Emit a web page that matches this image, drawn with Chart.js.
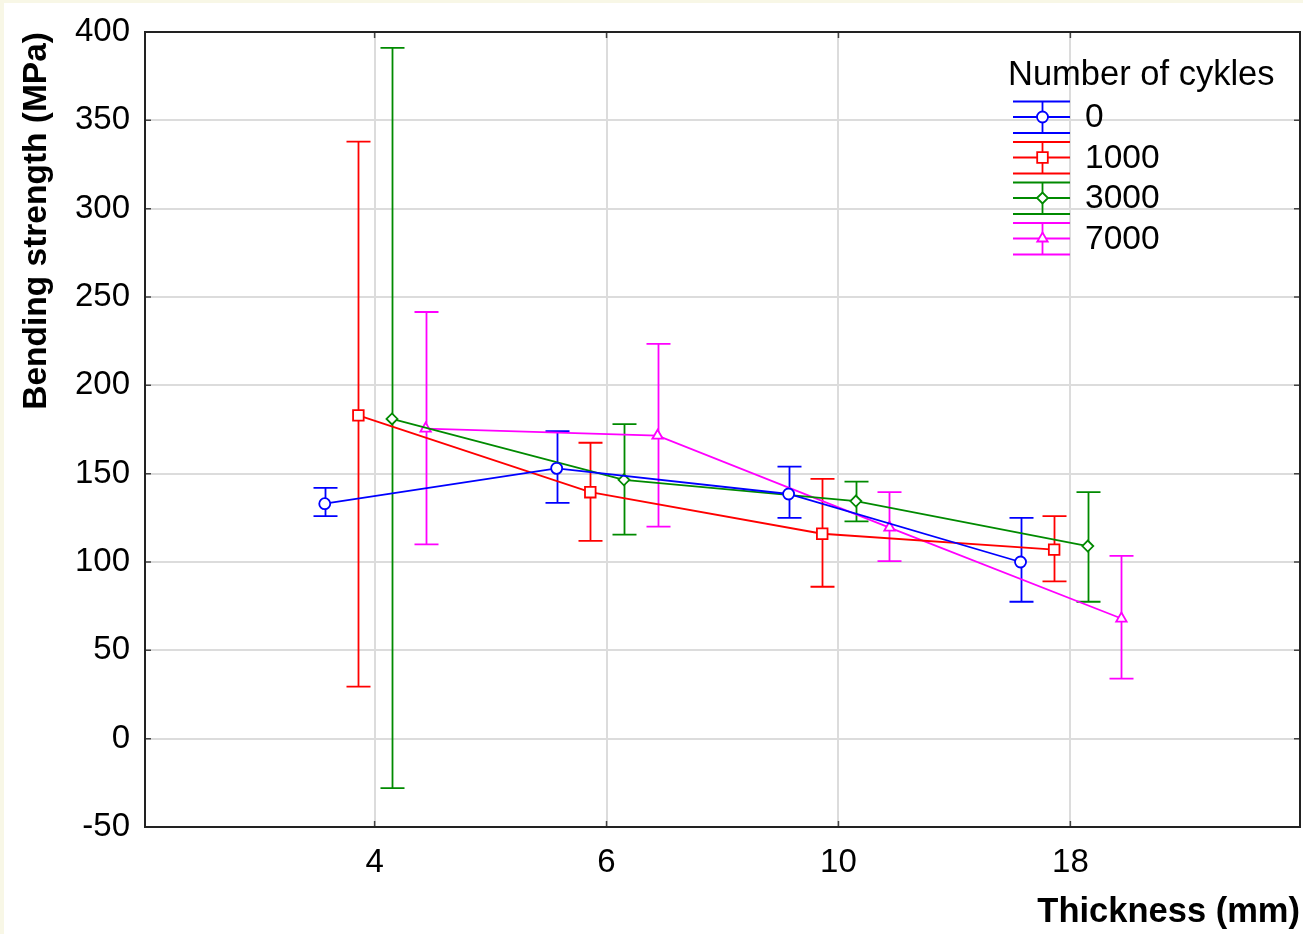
<!DOCTYPE html>
<html>
<head>
<meta charset="utf-8">
<script src="https://cdn.jsdelivr.net/npm/chart.js@4.4.1/dist/chart.umd.min.js"></script>
<style>
  html, body { margin: 0; padding: 0; background: #fff; }
  #wrap { width: 1303px; height: 934px; }
</style>
</head>
<body>
<div id="wrap"><canvas id="chart" width="1303" height="934"></canvas></div>
<script>
// ---------------------------------------------------------------------------
// Data: means and error bar limits per thickness
// ---------------------------------------------------------------------------
const thickness = ['4', '6', '10', '18'];
const cycles = ['0', '1000', '3000', '7000'];

const mean0 = [133, 153, 138.5, 100];
const low0 = [126, 133.5, 125, 77.5];
const high0 = [142, 174, 154, 125];

const mean1000 = [183, 139.5, 116, 107];
const low1000 = [29.5, 112, 86, 89];
const high1000 = [338, 167.5, 147, 126];

const mean3000 = [181, 146.5, 134.5, 109];
const low3000 = [-28, 115.5, 123, 77.5];
const high3000 = [391, 178, 145.5, 139.5];

const mean7000 = [175.5, 171.5, 119.5, 68];
const low7000 = [110, 120, 100.5, 34];
const high7000 = [241.5, 223.5, 139.5, 103.5];

// ---------------------------------------------------------------------------
// Styling
// ---------------------------------------------------------------------------
const FONT = 'Liberation Sans, Arial, sans-serif';
const LINE_W = 1.8;
const series = [
  { mean: mean0, low: low0, high: high0, color: '#0000ff', shape: 'circle', r: 5.5, shift: -0.215 },
  { mean: mean1000, low: low1000, high: high1000, color: '#ff0000', shape: 'rect', r: 7.5, shift: -0.07 },
  { mean: mean3000, low: low3000, high: high3000, color: '#008a00', shape: 'rectRot', r: 5.5, shift: 0.075 },
  { mean: mean7000, low: low7000, high: high7000, color: '#ff00ff', shape: 'triangle', r: 6, shift: 0.22 }
];

const datasets = series.map((s, i) => ({
  label: cycles[i],
  data: s.mean.map((m, k) => ({ x: k + 1 + s.shift, y: m, low: s.low[k], high: s.high[k] })),
  borderColor: s.color,
  backgroundColor: '#fff',
  borderWidth: LINE_W,
  tension: 0,
  pointStyle: s.shape,
  pointRadius: s.r,
  pointBorderWidth: 1.8,
  pointBackgroundColor: '#fff',
  pointBorderColor: s.color
}));

// ---------------------------------------------------------------------------
// Plugin: background, error bars, frame with inner ticks, legend
// ---------------------------------------------------------------------------
const decorations = {
  id: 'decorations',
  beforeDraw(chart) {
    const ctx = chart.ctx;
    ctx.save();
    ctx.fillStyle = '#fff';
    ctx.fillRect(0, 0, chart.width, chart.height);
    ctx.fillStyle = '#f8f7e6';
    ctx.fillRect(0, 0, 4, chart.height);
    ctx.fillRect(0, 0, chart.width, 3);
    ctx.restore();
  },
  beforeDatasetsDraw(chart) {
    const { ctx, scales: { x, y } } = chart;
    chart.data.datasets.forEach(ds => {
      ctx.save();
      ctx.strokeStyle = ds.borderColor;
      ctx.lineWidth = LINE_W;
      ds.data.forEach(p => {
        const px = Math.round(x.getPixelForValue(p.x)) + 0.5;
        const top = y.getPixelForValue(p.high);
        const bot = y.getPixelForValue(p.low);
        ctx.beginPath();
        ctx.moveTo(px, top);
        ctx.lineTo(px, bot);
        ctx.moveTo(px - 12, top);
        ctx.lineTo(px + 12, top);
        ctx.moveTo(px - 12, bot);
        ctx.lineTo(px + 12, bot);
        ctx.stroke();
      });
      ctx.restore();
    });
  },
  afterDraw(chart) {
    const { ctx, chartArea: a, scales: { x, y } } = chart;
    ctx.save();
    // inner tick marks
    ctx.strokeStyle = '#444';
    ctx.lineWidth = 1.5;
    ctx.beginPath();
    y.ticks.forEach(t => {
      const py = y.getPixelForValue(t.value);
      ctx.moveTo(a.left, py); ctx.lineTo(a.left + 6, py);
      ctx.moveTo(a.right, py); ctx.lineTo(a.right - 6, py);
    });
    x.ticks.forEach(t => {
      const px = x.getPixelForValue(t.value);
      ctx.moveTo(px, a.bottom); ctx.lineTo(px, a.bottom - 6);
      ctx.moveTo(px, a.top); ctx.lineTo(px, a.top + 6);
    });
    ctx.stroke();
    // frame
    ctx.strokeStyle = '#222';
    ctx.lineWidth = 2;
    ctx.strokeRect(a.left, a.top, a.right - a.left, a.bottom - a.top);

    // legend
    ctx.fillStyle = '#000';
    ctx.textBaseline = 'middle';
    ctx.textAlign = 'left';
    ctx.font = '34.5px ' + FONT;
    ctx.fillText('Number of cykles', 1008, 75);
    ctx.font = '33.5px ' + FONT;
    series.forEach((s, i) => {
      const cy = 117 + i * 40.5;
      ctx.strokeStyle = s.color;
      ctx.lineWidth = LINE_W;
      ctx.beginPath();
      ctx.moveTo(1013, cy); ctx.lineTo(1070, cy);
      ctx.moveTo(1013, cy - 15.5); ctx.lineTo(1070, cy - 15.5);
      ctx.moveTo(1013, cy + 16); ctx.lineTo(1070, cy + 16);
      ctx.moveTo(1042.5, cy - 15.5); ctx.lineTo(1042.5, cy + 16);
      ctx.stroke();
      ctx.fillStyle = '#fff';
      Chart.helpers.drawPoint(ctx, {
        pointStyle: s.shape, radius: s.r, borderWidth: 1.8, rotation: 0
      }, 1042.5, cy);
      ctx.fillStyle = '#000';
      ctx.fillText(cycles[i], 1085, cy + 1);
    });
    ctx.restore();
  }
};

// ---------------------------------------------------------------------------
// Chart
// ---------------------------------------------------------------------------
const ctx = document.getElementById('chart').getContext('2d');
new Chart(ctx, {
  type: 'line',
  data: { datasets: datasets },
  options: {
    responsive: false,
    animation: false,
    layout: { autoPadding: false, padding: { top: 32, right: 3, left: 0, bottom: 0 } },
    plugins: {
      legend: { display: false },
      tooltip: { enabled: false }
    },
    scales: {
      x: {
        type: 'linear',
        min: 0.01,
        max: 4.99,
        afterBuildTicks: (s) => { s.ticks = thickness.map((_, i) => ({ value: i + 1 })); },
        afterFit: (s) => { s.height = 107; s.paddingLeft = 0; s.paddingRight = 0; },
        border: { display: false },
        grid: { color: '#dcdcdc', lineWidth: 2, drawTicks: false },
        ticks: {
          autoSkip: false,
          maxRotation: 0,
          padding: 16,
          color: '#000',
          font: { family: FONT, size: 33 },
          callback: (v) => thickness[Math.round(v) - 1]
        },
        title: {
          display: true,
          text: 'Thickness (mm)',
          align: 'end',
          color: '#000',
          font: { family: FONT, size: 34.5, weight: 'bold' },
          padding: { top: 0, bottom: 1 }
        }
      },
      y: {
        min: -50,
        max: 400,
        afterFit: (s) => { s.width = 145; s.paddingTop = 0; s.paddingBottom = 0; },
        border: { display: false },
        grid: { color: '#dcdcdc', lineWidth: 2, drawTicks: false },
        ticks: {
          stepSize: 50,
          padding: 15,
          color: '#000',
          font: { family: FONT, size: 33 }
        },
        title: {
          display: true,
          text: 'Bending strength (MPa)',
          align: 'end',
          color: '#000',
          font: { family: FONT, size: 33.5, weight: 'bold' },
          padding: { top: 17, bottom: 6 }
        }
      }
    }
  },
  plugins: [decorations]
});
</script>
</body>
</html>
